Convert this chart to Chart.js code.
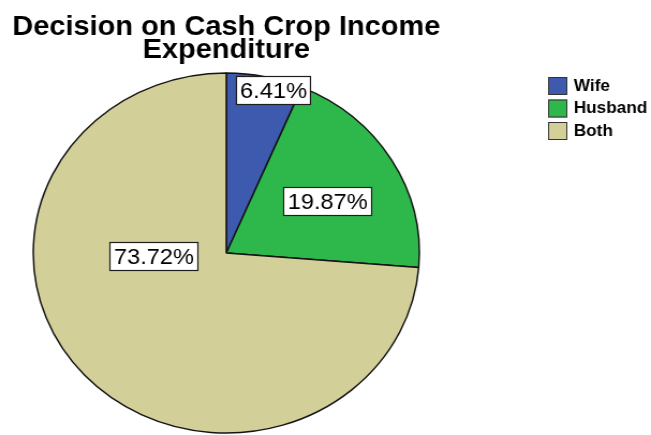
<!DOCTYPE html>
<html>
<head>
<meta charset="utf-8">
<script src="https://cdn.jsdelivr.net/npm/chart.js@4/dist/chart.umd.min.js"></script>
<style>
  html, body { margin: 0; padding: 0; background: #ffffff; overflow: hidden; }
  #wrap { width: 651px; height: 435px; overflow: hidden; }
  /* the drawing is laid out on a narrower canvas and widened to the page */
  #chart { display: block; transform-origin: 0 0; transform: scaleX(1.0725); }
</style>
</head>
<body>
<div id="wrap"><canvas id="chart" width="607" height="435"></canvas></div>
<script>
// Who decides how cash crop income is spent (percent of respondents)
const categories = ['Wife', 'Husband', 'Both'];
const shares = [6.41, 19.87, 73.72];
const sliceColors = ['#3d5aae', '#2eb84c', '#d3cf98'];
const titleLines = ['Decision on Cash Crop Income', 'Expenditure'];

// where each percentage box sits: angle clockwise from 12 o'clock, fraction of radius
const labelSpots = [
  { angle: 15, dist: 0.94 },
  { angle: 61, dist: 0.60 },
  { angle: 267.5, dist: 0.38 }
];

const FONT = '"Liberation Sans", Arial, Helvetica, sans-serif';

const titlePlugin = {
  id: 'centredTitle',
  afterDraw(chart) {
    const ctx = chart.ctx;
    const arc = chart.getDatasetMeta(0).data[0];
    ctx.save();
    ctx.fillStyle = '#000';
    ctx.font = 'bold 27px ' + FONT;
    ctx.textAlign = 'center';
    ctx.textBaseline = 'alphabetic';
    ctx.fillText(titleLines[0], arc.x, 35);
    ctx.fillText(titleLines[1], arc.x, 58);
    ctx.restore();
  }
};

const valueBoxes = {
  id: 'valueBoxes',
  afterDatasetsDraw(chart) {
    const ctx = chart.ctx;
    const meta = chart.getDatasetMeta(0);
    ctx.save();
    ctx.font = '22px ' + FONT;
    ctx.textAlign = 'center';
    ctx.textBaseline = 'middle';
    meta.data.forEach((arc, i) => {
      const spot = labelSpots[i];
      const a = spot.angle * Math.PI / 180;
      const r = arc.outerRadius * spot.dist;
      const cx = arc.x + r * Math.sin(a);
      const cy = arc.y - r * Math.cos(a);
      const text = shares[i].toFixed(2) + '%';
      const w = Math.round(ctx.measureText(text).width + 7);
      const h = 28;
      const left = Math.round(cx - w / 2), top = Math.round(cy - h / 2);
      ctx.fillStyle = '#ffffff';
      ctx.fillRect(left, top, w, h);
      ctx.strokeStyle = '#1e1e1e';
      ctx.lineWidth = 1.2;
      ctx.strokeRect(left + 0.5, top + 0.5, w, h);
      ctx.fillStyle = '#000';
      ctx.fillText(text, left + w / 2 + 0.5, top + h / 2 + 1.5);
    });
    ctx.restore();
  }
};

const sideLegend = {
  id: 'sideLegend',
  afterDraw(chart) {
    const ctx = chart.ctx;
    const ds = chart.data.datasets[0];
    ctx.save();
    ctx.font = 'bold 16px ' + FONT;
    ctx.textBaseline = 'middle';
    chart.data.labels.forEach((lab, i) => {
      const x = 511, y = 77 + i * 22.5;
      ctx.fillStyle = ds.backgroundColor[i];
      ctx.fillRect(x, y, 18, 18);
      ctx.strokeStyle = '#333';
      ctx.lineWidth = 1;
      ctx.strokeRect(x + 0.5, y + 0.5, 17, 17);
      ctx.fillStyle = '#000';
      ctx.fillText(lab, 535, y + 9.5);
    });
    ctx.restore();
  }
};

new Chart(document.getElementById('chart'), {
  type: 'pie',
  data: {
    labels: categories,
    datasets: [{
      data: shares,
      backgroundColor: sliceColors,
      borderColor: '#141414',
      borderWidth: 1.5,
      borderAlign: 'center'
    }]
  },
  options: {
    responsive: false,
    animation: false,
    radius: 180,
    rotation: 0,
    layout: { padding: { left: 31, right: 216, top: 73, bottom: 2 } },
    plugins: {
      legend: { display: false },
      title: { display: false },
      tooltip: { enabled: false }
    }
  },
  plugins: [valueBoxes, titlePlugin, sideLegend]
});
</script>
</body>
</html>
